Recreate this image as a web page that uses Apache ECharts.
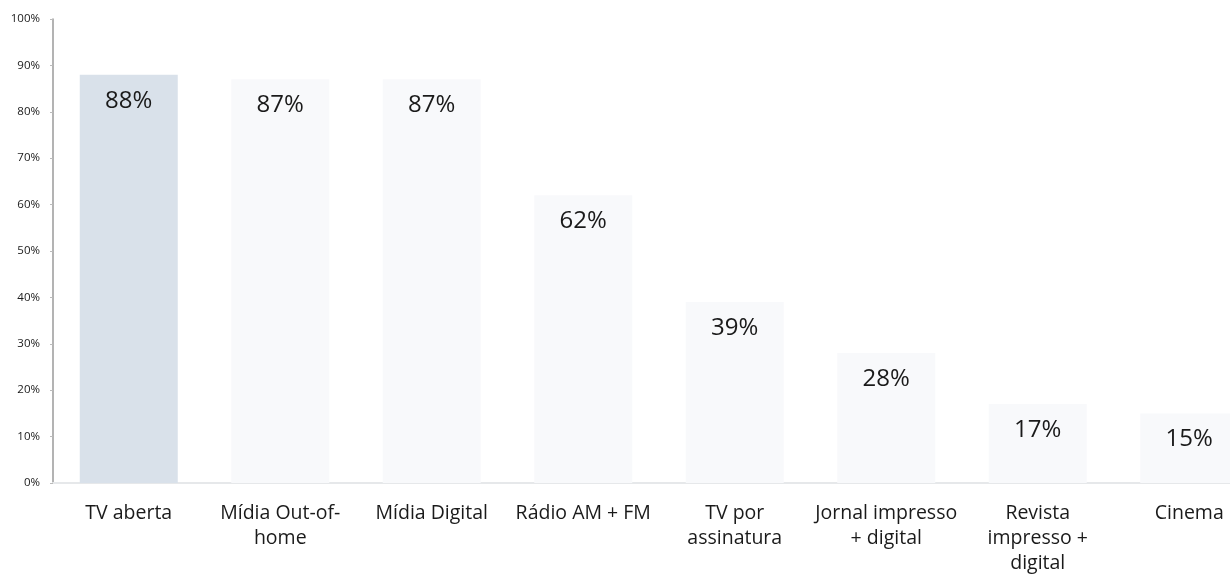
<!DOCTYPE html>
<html><head><meta charset="utf-8">
<script src="https://cdn.jsdelivr.net/npm/echarts@6/dist/echarts.min.js"></script>
<style>html,body{margin:0;padding:0;background:#fff}#c{width:1230px;height:575px}</style>
</head><body><div id="c"></div>
<script>
const categories = ["TV aberta","Mídia Out-of-\nhome","Mídia Digital","Rádio AM + FM","TV por\nassinatura","Jornal impresso\n+ digital","Revista\nimpresso +\ndigital","Cinema"];
const values = [88,87,87,62,39,28,17,15];
const yTicks = [0,10,20,30,40,50,60,70,80,90,100];
const chart = echarts.init(document.getElementById('c'));
chart.setOption({
  animation:false,
  grid:{left:53,top:19,width:1212,height:464,outerBoundsMode:'none',containLabel:false},
  xAxis:{type:'category',data:categories,
    axisLine:{lineStyle:{color:'#e6e8ea',width:2}},axisTick:{show:false},
    axisLabel:{color:'#1a1a1a',fontSize:19.5,fontFamily:'Open Sans',lineHeight:25,margin:18,interval:0}},
  yAxis:{type:'value',min:0,max:100,interval:10,
    axisLine:{show:true,lineStyle:{color:'#9a9a9a',width:1.5}},
    axisTick:{show:true,length:3,lineStyle:{color:'#bbb'}},
    splitLine:{show:false},
    axisLabel:{formatter:v=>v+'%',color:'#1a1a1a',fontSize:11.5,fontFamily:'Open Sans',margin:13}},
  series:[{type:'bar',barWidth:98,
    data:values.map((v,i)=>({value:v,itemStyle:{color:i===0?'#d9e1ea':'#f8f9fb'}})),
    label:{show:true,position:'insideTop',distance:14,formatter:p=>p.value+'%',color:'#1a1a1a',fontSize:24,fontFamily:'Open Sans'}}]
});
</script></body></html>
